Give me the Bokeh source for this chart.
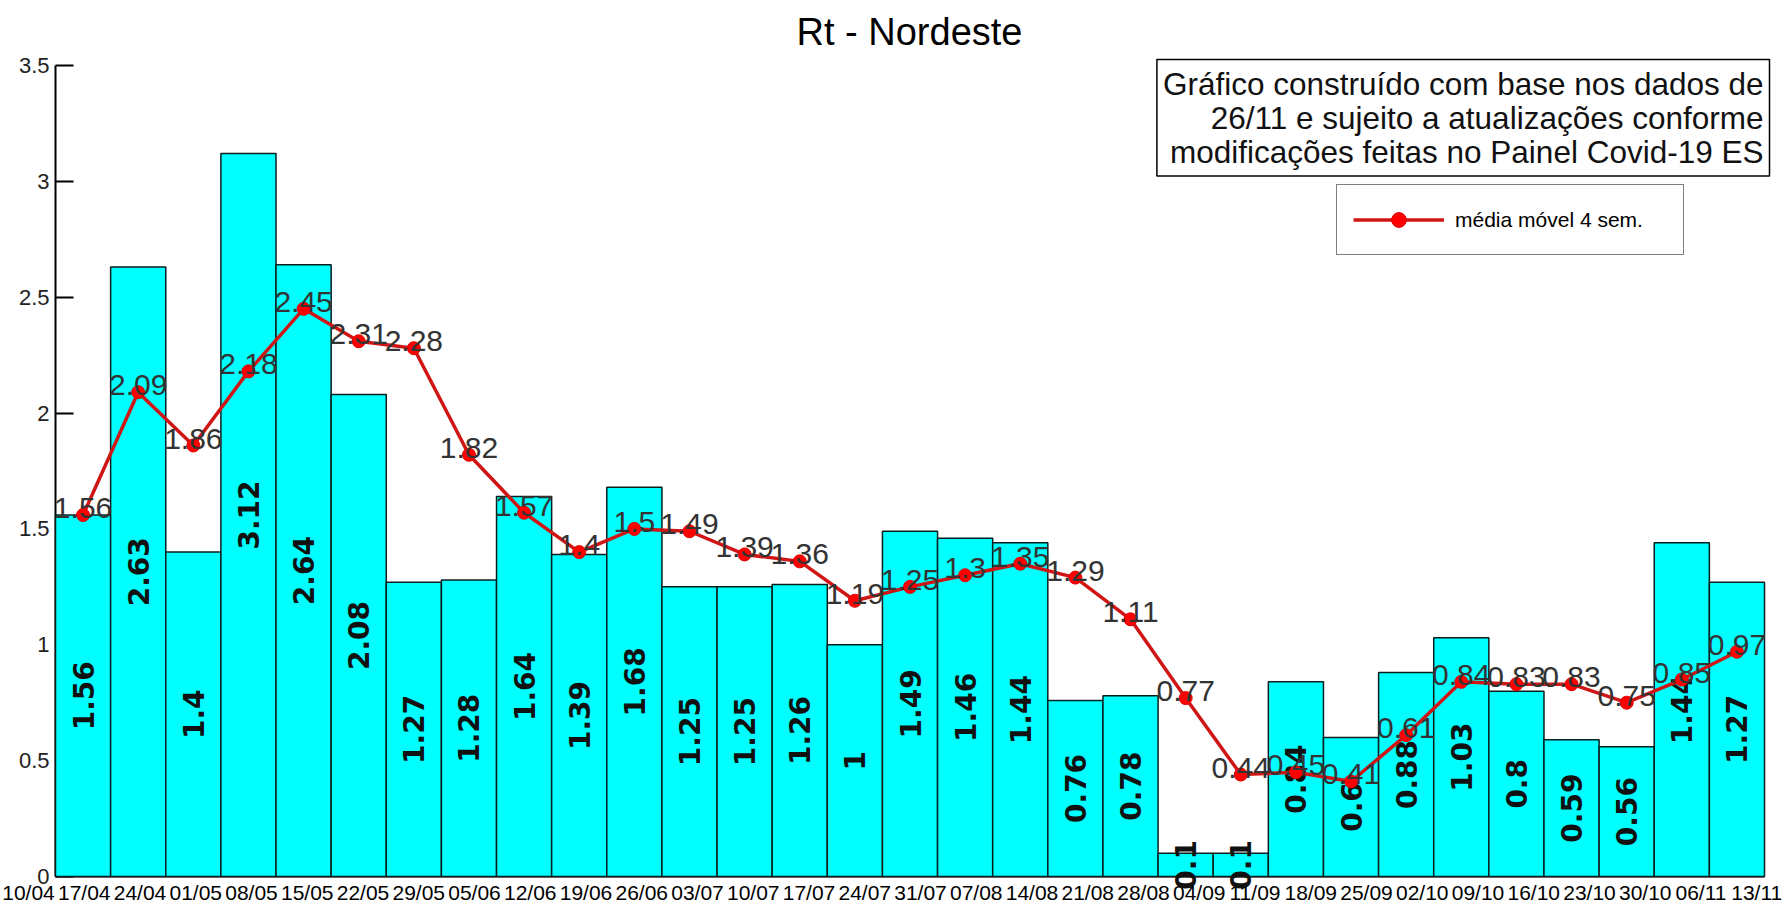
import math
from bokeh.plotting import figure
from bokeh.models import (ColumnDataSource, FixedTicker, Label, Legend, LegendItem,
                          LinearAxis, Range1d)
from bokeh.core.properties import value
from bokeh.embed import file_html
from bokeh.resources import INLINE

# ---------------- data ----------------
tick_labels = ["10/04", "17/04", "24/04", "01/05", "08/05", "15/05", "22/05", "29/05",
               "05/06", "12/06", "19/06", "26/06", "03/07", "10/07", "17/07", "24/07",
               "31/07", "07/08", "14/08", "21/08", "28/08", "04/09", "11/09", "18/09",
               "25/09", "02/10", "09/10", "16/10", "23/10", "30/10", "06/11", "13/11"]

rt_values = [1.56, 2.63, 1.40, 3.12, 2.64, 2.08, 1.27, 1.28, 1.64, 1.39, 1.68,
             1.25, 1.25, 1.26, 1.00, 1.49, 1.46, 1.44, 0.76, 0.78, 0.10, 0.10,
             0.84, 0.60, 0.88, 1.03, 0.80, 0.59, 0.56, 1.44, 1.27]

moving_avg = [1.56, 2.09, 1.86, 2.18, 2.45, 2.31, 2.28, 1.82, 1.57, 1.40, 1.50,
              1.49, 1.39, 1.36, 1.19, 1.25, 1.30, 1.35, 1.29, 1.11, 0.77, 0.44,
              0.45, 0.41, 0.61, 0.84, 0.83, 0.83, 0.75, 0.85, 0.97]

y_ticks = [0, 0.5, 1, 1.5, 2, 2.5, 3, 3.5]
y_tick_labels = ["0", "0.5", "1", "1.5", "2", "2.5", "3", "3.5"]

title_text = "Rt - Nordeste"
note_lines = ["Gráfico construído com base nos dados de",
              "26/11 e sujeito a atualizações conforme",
              "modificações feitas no Painel Covid-19 ES"]
legend_text = "média móvel 4 sem."

FONT = "Liberation Sans"

# ---------------- layout (pixels) ----------------
W, H = 1790, 909
AXIS_X = 55          # screen x of y axis (data x = 0)
BARS_RIGHT = 1764    # screen x of the end of the last bar
FRAME_RIGHT = 1790
Y0_PX, YTOP_PX = 876, 65   # screen y of 0 and of 3.5
FRAME_TOP = 55
FRAME_BOTTOM = 905
LABEL0_PX, LABEL_STEP_PX = 28, 55.75   # date labels are spread evenly under the bars


def fmt(v):
    return f"{v:g}"


n = len(rt_values)
y_max = y_ticks[-1]
px_per_x = (BARS_RIGHT - AXIS_X) / n
px_per_y = (Y0_PX - YTOP_PX) / y_max
x_start = -AXIS_X / px_per_x
x_end = n + (FRAME_RIGHT - BARS_RIGHT) / px_per_x
y_start = -(FRAME_BOTTOM - Y0_PX) / px_per_y
y_end = y_max + (YTOP_PX - FRAME_TOP) / px_per_y

xc = [i + 0.5 for i in range(n)]
src = ColumnDataSource(dict(
    x=xc,
    rt=rt_values,
    half=[v / 2 for v in rt_values],
    rt_txt=[fmt(v) for v in rt_values],
    avg=moving_avg,
    avg_txt=[fmt(v) for v in moving_avg],
))

p = figure(width=W, height=H, output_backend="svg", toolbar_location=None,
           x_range=Range1d(x_start, x_end), y_range=Range1d(y_start, y_end),
           x_axis_location=None, y_axis_location=None,
           min_border_left=0, min_border_right=W - FRAME_RIGHT,
           min_border_top=FRAME_TOP, min_border_bottom=H - FRAME_BOTTOM,
           title=title_text)
p.background_fill_color = "white"
p.border_fill_color = "white"
p.outline_line_color = None
p.grid.visible = False

# range used only to place the date labels
p.extra_x_ranges = {"dates": Range1d(-LABEL0_PX / LABEL_STEP_PX,
                                     (FRAME_RIGHT - LABEL0_PX) / LABEL_STEP_PX)}

p.title.align = "left"
p.title.offset = 796
p.title.text_font = FONT
p.title.text_font_size = "38px"
p.title.text_font_style = "normal"
p.title.text_color = "black"
p.title.standoff = 6

# bars
p.vbar(x="x", top="rt", bottom=0, width=1, source=src,
       fill_color="#00FFFF", line_color="#0b1f1f", line_width=1.5, level="annotation")

# bar value labels (rotated)
p.text(x="x", y="half", text="rt_txt", source=src, angle=math.pi / 2,
       text_align="center", text_baseline="middle",
       text_font=value("DejaVu Sans"), text_font_size="28px", text_font_style="bold",
       text_color="#111111", level="annotation")

# moving average line + markers
line_r = p.line(x="x", y="avg", source=src, line_color="#D01515", line_width=3.5,
                level="annotation")
dot_r = p.scatter(x="x", y="avg", source=src, marker="circle", size=13,
                  fill_color="#FF0000", line_color="#E00000", level="annotation")

# moving average labels
p.text(x="x", y="avg", text="avg_txt", source=src,
       text_align="center", text_baseline="alphabetic", y_offset=-7,
       text_font=value(FONT), text_font_size="30px", text_color="#333333",
       level="annotation")

# x axis at y = 0: date labels
xa = LinearAxis(fixed_location=0, x_range_name="dates",
                ticker=FixedTicker(ticks=list(range(len(tick_labels)))))
xa.major_label_overrides = {i: lab for i, lab in enumerate(tick_labels)}
xa.major_tick_in = 0
xa.major_tick_out = 0
xa.minor_tick_line_color = None
xa.axis_line_color = None
xa.major_label_standoff = 4
xa.major_label_text_font = FONT
xa.major_label_text_font_size = "21px"
xa.major_label_text_color = "black"
p.add_layout(xa, "below")

# x base line at y = 0, limited to the bars
base = LinearAxis(fixed_location=0, bounds=(0, n), ticker=FixedTicker(ticks=[]),
                  axis_line_width=2, axis_line_color="black",
                  major_tick_line_color=None, minor_tick_line_color=None)
p.add_layout(base, "below")

# y axis at data x = 0
ya = LinearAxis(fixed_location=0, bounds=(0, y_max), ticker=FixedTicker(ticks=y_ticks))
ya.major_label_overrides = dict(zip(y_ticks, y_tick_labels))
ya.major_tick_in = 18
ya.major_tick_out = 0
ya.major_tick_line_width = 2
ya.minor_tick_line_color = None
ya.axis_line_width = 2
ya.axis_line_color = "black"
ya.major_label_standoff = 6
ya.major_label_text_font = FONT
ya.major_label_text_font_size = "22px"
ya.major_label_text_color = "#222222"
p.add_layout(ya, "left")

# note box
p.add_layout(Label(x=n, y=y_max, text="\n".join(note_lines), text_align="right",
                   text_baseline="top", x_offset=5, y_offset=6,
                   text_font=FONT, text_font_size="31.5px",
                   text_line_height=0.95, text_color="#111111",
                   border_line_color="black", border_line_width=1.5,
                   background_fill_color="white", padding=6, level="overlay"))

# legend
legend = Legend(items=[LegendItem(label=legend_text, renderers=[line_r, dot_r])],
                location=(1336, FRAME_BOTTOM - 255), padding=16, margin=0, spacing=0,
                glyph_width=91, glyph_height=37, label_width=212, label_height=37,
                label_standoff=11, label_text_font=FONT, label_text_font_size="21px",
                label_text_color="black", border_line_color="black",
                border_line_width=1.5, background_fill_color="white",
                background_fill_alpha=1.0, level="overlay")
p.add_layout(legend)

open("out.html", "w").write(file_html(p, INLINE))
